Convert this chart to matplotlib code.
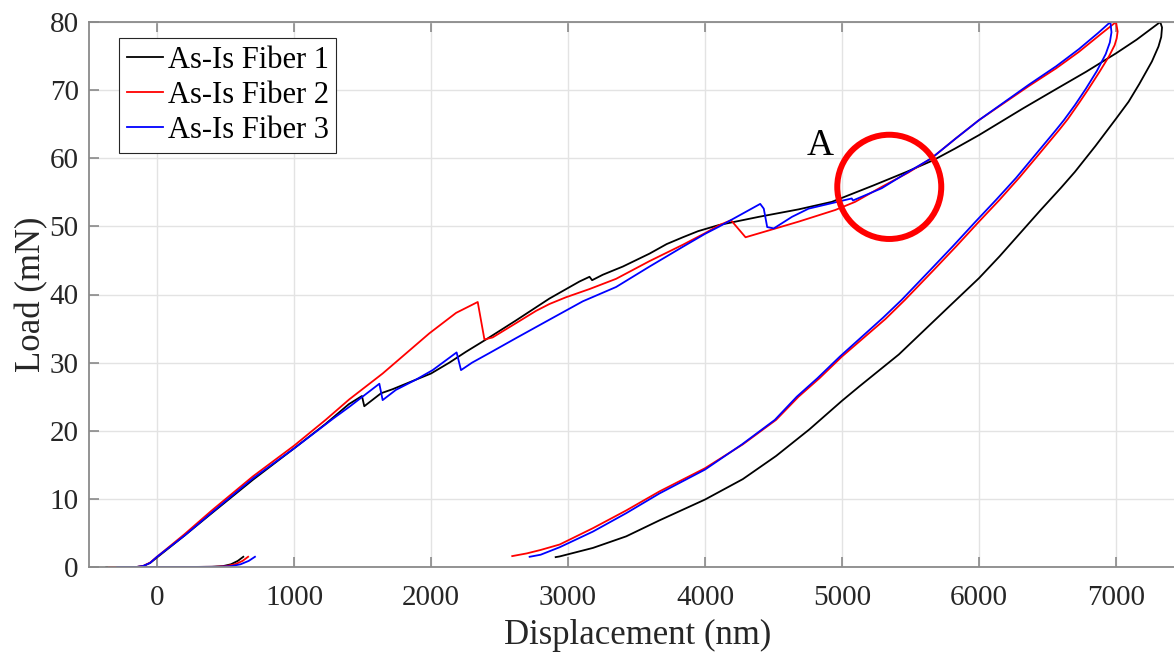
import matplotlib
matplotlib.use('Agg')
import matplotlib.pyplot as plt
from matplotlib.patches import Ellipse

plt.rcParams['font.family'] = ['Liberation Serif', 'DejaVu Serif']

# Fiber 1 (black): approach, loading with pop-ins, unloading
disp_1 = [630, 590, 540, 480, 400, 200, -370,
          -150, -100, -50, 0, 200, 400, 700, 1000, 1230, 1400, 1496, 1513, 1635, 1720, 1890,
          2000, 2134, 2256, 2402, 2621, 2864, 3083, 3157, 3176, 3254, 3351, 3400, 3595, 3720,
          3838, 3950, 4102, 4393, 4684, 4926, 5228, 5471, 5665, 5823, 6000, 6320, 6550, 6782,
          7000, 7150, 7323,
          7336, 7330, 7310, 7262, 7170, 7092, 7000, 6850, 6700, 6600, 6450, 6300, 6150, 6000,
          5780, 5415, 5126, 5000, 4762, 4519, 4276, 4000, 3668, 3425, 3182, 2939, 2910]
load_1 = [1.5, 0.9, 0.4, 0.12, 0.03, 0, 0,
          0, 0.15, 0.6, 1.4, 4.6, 7.9, 12.8, 17.4, 21.0, 23.9, 25.1, 23.6, 25.5, 26.1, 27.5,
          28.4, 30.0, 31.6, 33.4, 36.2, 39.4, 41.9, 42.6, 42.1, 42.9, 43.7, 44.1, 46.0, 47.4,
          48.4, 49.3, 50.2, 51.4, 52.5, 53.6, 56.0, 58.0, 59.7, 61.4, 63.4, 67.3, 70.0, 72.7,
          75.4, 77.4, 80.0,
          79.2, 77.8, 76.4, 74.2, 70.9, 68.3, 65.8, 61.8, 58.0, 55.7, 52.4, 49.0, 45.6, 42.4,
          38.2, 31.2, 26.5, 24.4, 20.2, 16.3, 12.9, 9.9, 6.85, 4.5, 2.8, 1.55, 1.45]

# Fiber 2 (red)
disp_2 = [665, 625, 570, 500, 420, 200, -350,
          -150, -100, -50, 0, 200, 400, 700, 1000, 1231, 1403, 1647, 1988, 2183, 2341, 2390,
          2450, 2621, 2767, 2864, 2986, 3157, 3351, 3595, 3838, 4000, 4106, 4190, 4296, 4465,
          4684, 4950, 5096, 5290, 5484, 5653, 5830, 6000, 6364, 6563, 6728, 6900, 7000,
          7012, 7005, 6990, 6950, 6880, 6800, 6733, 6650, 6587, 6442, 6296, 6150, 6000, 5835,
          5665, 5459, 5317, 5000, 4835, 4683, 4519, 4276, 4000, 3668, 3425, 3182, 2939, 2800,
          2700, 2593]
load_2 = [1.5, 0.9, 0.4, 0.12, 0.03, 0, 0,
          0, 0.15, 0.65, 1.5, 4.8, 8.3, 13.3, 17.8, 21.6, 24.6, 28.4, 34.3, 37.3, 38.9, 33.4,
          33.7, 35.8, 37.6, 38.6, 39.6, 40.8, 42.3, 44.9, 47.3, 49.0, 50.2, 50.9, 48.4, 49.4,
          50.7, 52.4, 53.6, 55.8, 57.9, 60.0, 62.9, 65.6, 70.6, 73.2, 75.6, 78.4, 80.0,
          78.6, 77.6, 76.6, 75.0, 72.7, 70.2, 68.2, 65.8, 64.2, 60.7, 57.2, 53.9, 50.7, 47.1,
          43.5, 39.2, 36.4, 30.9, 27.7, 25.0, 21.6, 18.0, 14.5, 11.1, 8.3, 5.7, 3.3, 2.5,
          2.0, 1.6]

# Fiber 3 (blue)
disp_3 = [715, 670, 610, 540, 450, 200, -290,
          -150, -100, -50, 0, 200, 400, 700, 1000, 1287, 1403, 1623, 1647, 1744, 1890, 2012,
          2187, 2219, 2300, 2426, 2621, 2864, 3108, 3351, 3595, 3838, 4000, 4106, 4403, 4429,
          4454, 4502, 4635, 4756, 5071, 5080, 5290, 5484, 5653, 5830, 6000, 6364, 6563, 6728,
          6870, 6959,
          6967, 6955, 6925, 6860, 6780, 6700, 6620, 6560, 6415, 6270, 6125, 5975, 5810, 5640,
          5435, 5300, 4985, 4820, 4670, 4510, 4270, 4000, 3668, 3425, 3182, 2939, 2800, 2720]
load_3 = [1.5, 0.9, 0.4, 0.12, 0.03, 0, 0,
          0, 0.15, 0.6, 1.5, 4.6, 8.0, 13.0, 17.4, 21.8, 23.5, 26.9, 24.5, 26.0, 27.5, 28.9,
          31.5, 28.9, 30.0, 31.4, 33.6, 36.3, 39.0, 41.1, 44.1, 47.0, 48.9, 50.0, 53.3, 52.6,
          49.9, 49.7, 51.4, 52.6, 54.1, 53.8, 55.6, 58.0, 60.0, 62.9, 65.6, 70.8, 73.5, 76.0,
          78.4, 80.0,
          78.5, 77.0, 75.3, 72.8, 70.2, 67.8, 65.6, 64.1, 60.6, 57.1, 53.9, 50.7, 47.1, 43.5,
          39.2, 36.6, 30.9, 27.7, 25.0, 21.6, 18.0, 14.3, 10.8, 7.9, 5.2, 2.9, 1.8, 1.5]

labels = ['As-Is Fiber 1', 'As-Is Fiber 2', 'As-Is Fiber 3']
colors = ['black', '#ff0000', '#0000ff']

# region A marker
ring_center = (5345, 55.8)
ring_size = (759, 15.3)

fig = plt.figure(figsize=(11.74, 6.53), dpi=100)
ax = fig.add_axes([88.5 / 1174, 86 / 653, 1096 / 1174, 545 / 653])

for d, l, c, lab in zip([disp_1, disp_2, disp_3], [load_1, load_2, load_3], colors, labels):
    ax.plot(d, l, color=c, lw=1.3, label=lab)

ax.add_patch(Ellipse(ring_center, ring_size[0], ring_size[1], fill=False,
                     edgecolor='#ff0000', lw=4.3, zorder=5))
ax.text(4840, 60.5, 'A', fontsize=27, ha='center', va='baseline')

ax.set_xlim(-500, 7500)
ax.set_ylim(0, 80)
ax.set_xticks(range(0, 7001, 1000))
ax.set_yticks(range(0, 81, 10))
ax.grid(True, color='#e3e3e3', lw=1.0)
ax.set_axisbelow(True)

ax.tick_params(direction='in', length=7, width=1.1, color='#808080', labelcolor='#262626',
               labelsize=21, top=True, right=True)
ax.tick_params(axis='x', pad=13)
ax.tick_params(axis='y', pad=7)
for s in ax.spines.values():
    s.set_color('#8a8a8a')
    s.set_linewidth(1.3)

ax.set_xlabel('Displacement (nm)', fontsize=25, color='#262626')
ax.set_ylabel('Load (mN)', fontsize=25, color='#262626')
ax.xaxis.set_label_coords(0.501, -0.095)
ax.yaxis.set_label_coords(-0.037, 0.5)

leg = ax.legend(loc='upper left', bbox_to_anchor=(0.0278, 0.9706), borderaxespad=0,
                fontsize=22, handlelength=1.2, handletextpad=0.15, labelspacing=0.2,
                borderpad=0.25, fancybox=False, framealpha=1)
leg.get_frame().set_edgecolor('#262626')
leg.get_frame().set_linewidth(0.8)

plt.savefig('out.png', dpi=100)
